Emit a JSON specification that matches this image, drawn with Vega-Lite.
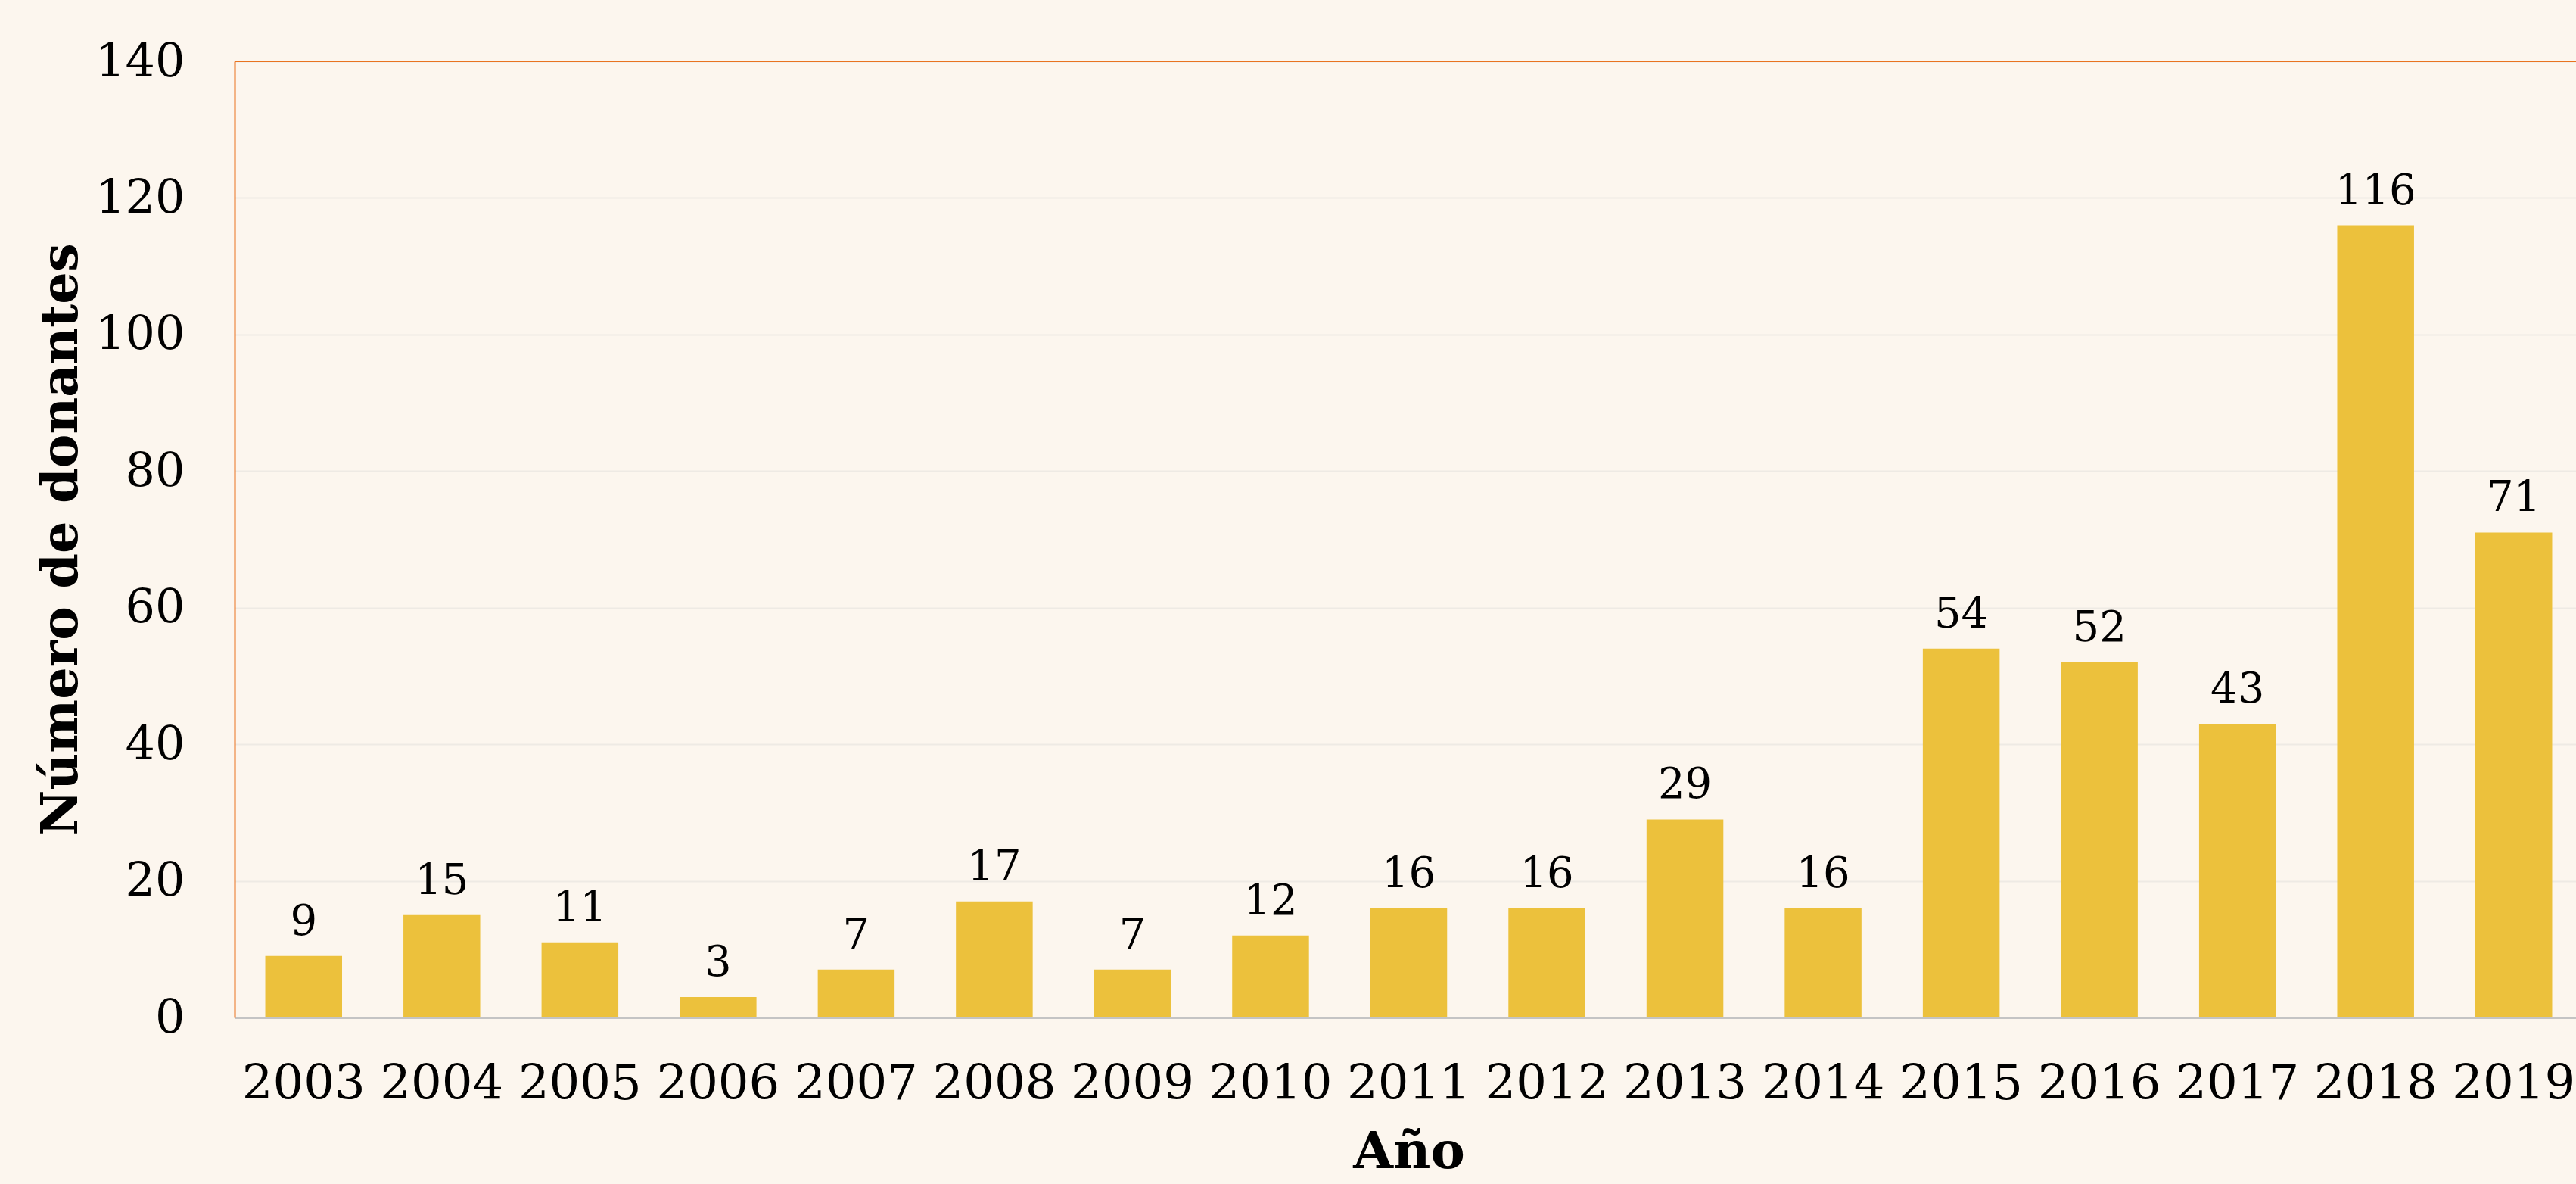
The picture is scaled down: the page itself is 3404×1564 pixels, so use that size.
{
  "$schema": "https://vega.github.io/schema/vega-lite/v6.json",
  "autosize": "none",
  "padding": {"left": 310, "top": 81, "right": 0, "bottom": 220},
  "width": 3094,
  "height": 1263,
  "background": "#FCF6EE",
  "config": {"view": {"stroke": null}, "font": "DejaVu Serif"},
  "data": {"values": [
    {"anio": "2003", "donantes": 9},
    {"anio": "2004", "donantes": 15},
    {"anio": "2005", "donantes": 11},
    {"anio": "2006", "donantes": 3},
    {"anio": "2007", "donantes": 7},
    {"anio": "2008", "donantes": 17},
    {"anio": "2009", "donantes": 7},
    {"anio": "2010", "donantes": 12},
    {"anio": "2011", "donantes": 16},
    {"anio": "2012", "donantes": 16},
    {"anio": "2013", "donantes": 29},
    {"anio": "2014", "donantes": 16},
    {"anio": "2015", "donantes": 54},
    {"anio": "2016", "donantes": 52},
    {"anio": "2017", "donantes": 43},
    {"anio": "2018", "donantes": 116},
    {"anio": "2019", "donantes": 71}
  ]},
  "layer": [
    {
      "mark": {"type": "bar", "color": "#ECC13C"},
      "encoding": {
        "x": {
          "field": "anio", "type": "ordinal", "sort": null,
          "scale": {"range": [0, 3103], "paddingInner": 0.444, "paddingOuter": 0.222},
          "axis": {
            "labelAngle": 0, "labelFontSize": 64, "labelPadding": 56, "labelColor": "#000000",
            "labelOverlap": false, "labelFlush": false,
            "ticks": false, "domainColor": "#C4C4C4", "domainWidth": 3,
            "title": "Año", "titleFontSize": 68, "titleFontWeight": "bold", "titleColor": "#000000",
            "titlePadding": 24
          }
        },
        "y": {
          "field": "donantes", "type": "quantitative",
          "scale": {"domain": [0, 140], "nice": false},
          "axis": {
            "values": [0, 20, 40, 60, 80, 100, 120, 140],
            "labelFontSize": 62, "labelPadding": 66, "labelColor": "#000000",
            "ticks": false, "domainColor": "#E9731F", "domainWidth": 2,
            "grid": true, "gridColor": "#EEEAE4", "gridWidth": 2,
            "title": "Número de donantes", "titleFontSize": 67, "titleFontWeight": "bold",
            "titleColor": "#000000", "titlePadding": 10
          }
        }
      }
    },
    {
      "mark": {"type": "text", "baseline": "alphabetic", "align": "center", "dy": -28, "fontSize": 56, "color": "#000000"},
      "encoding": {
        "x": {"field": "anio", "type": "ordinal", "sort": null},
        "y": {"field": "donantes", "type": "quantitative"},
        "text": {"field": "donantes", "type": "quantitative"}
      }
    },
    {
      "data": {"values": [{"top": 140}]},
      "mark": {"type": "rule", "color": "#E9731F", "strokeWidth": 2},
      "encoding": {"y": {"field": "top", "type": "quantitative"}}
    }
  ]
}
